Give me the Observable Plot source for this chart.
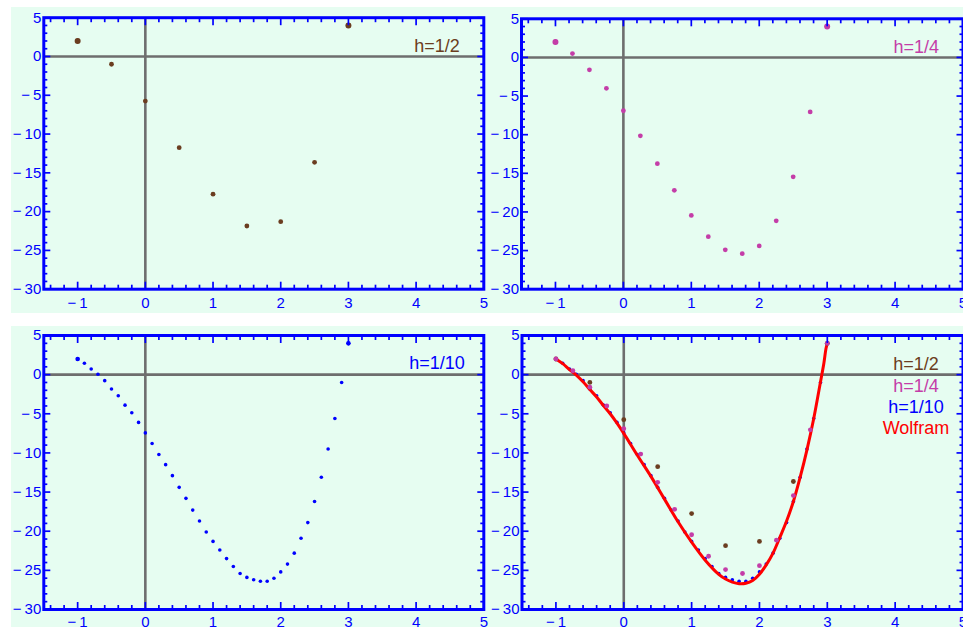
<!DOCTYPE html>
<html><head><meta charset="utf-8">
<script src="https://cdn.jsdelivr.net/npm/d3@7"></script>
<script src="https://cdn.jsdelivr.net/npm/@observablehq/plot@0.6"></script>
<style>
body{margin:0;background:#fff;}
#root{position:relative;width:963px;height:627px;overflow:hidden;font-family:"Liberation Sans",Arial,sans-serif;}
.bg{position:absolute;background:#e6fdf1;}
.panel{position:absolute;}
</style></head><body><div id="root">
<div class="bg" style="left:11px;top:7px;width:952px;height:306px"></div>
<div class="bg" style="left:11px;top:326px;width:952px;height:301px"></div>
</div>
<script>
// tick values
const xTicks = [-1, 0, 1, 2, 3, 4, 5];
const yTicks = [5, 0, -5, -10, -15, -20, -25, -30];
const xMinorTicks = d3.range(-1.4, 5, 0.2).filter(v => Math.abs(v - Math.round(v)) > 1e-6);
const yMinorTicks = d3.range(-29, 5, 1).filter(v => v % 5 !== 0);

// Euler h = 1/2
const xHalf = [-1, -0.5, 0, 0.5, 1, 1.5, 2, 2.5, 3];
const yHalf = [2, -1.0, -5.75, -11.75, -17.75, -21.85, -21.3, -13.65, 4.0];
// Euler h = 1/4
const xQuarter = [-1, -0.75, -0.5, -0.25, 0, 0.25, 0.5, 0.75, 1, 1.25, 1.5, 1.75, 2, 2.25, 2.5, 2.75, 3];
const yQuarter = [2, 0.5, -1.6, -4.0, -6.9, -10.15, -13.75, -17.2, -20.45, -23.2, -24.9, -25.4, -24.4, -21.15, -15.45, -7.05, 4.0];
// Euler h = 1/10
const xTenth = [-1, -0.9, -0.8, -0.7, -0.6, -0.5, -0.4, -0.3, -0.2, -0.1, 0,
  0.1, 0.2, 0.3, 0.4, 0.5, 0.6, 0.7, 0.8, 0.9, 1,
  1.1, 1.2, 1.3, 1.4, 1.5, 1.6, 1.7, 1.8, 1.9, 2,
  2.1, 2.2, 2.3, 2.4, 2.5, 2.6, 2.7, 2.8, 2.9, 3];
const yTenth = [2.0, 1.45, 0.72, 0.05, -0.77, -1.84, -2.7, -3.9, -4.87, -6.1, -7.44,
  -8.8, -10.2, -11.5, -12.9, -14.4, -15.8, -17.3, -18.7, -20.1, -21.3,
  -22.4, -23.5, -24.5, -25.4, -25.9, -26.2, -26.4, -26.4, -26.0, -25.2,
  -24.2, -22.8, -20.9, -18.9, -16.2, -13.1, -9.5, -5.6, -1.0, 4.0];
// Wolfram solution
const xWolfram = [-1, -0.9, -0.8, -0.7, -0.6, -0.5, -0.4, -0.3, -0.2, -0.1, 0, 0.2, 0.4, 0.6, 0.8, 1.0, 1.2, 1.4, 1.5, 1.6, 1.7, 1.8, 1.9, 2.0, 2.1, 2.2, 2.3, 2.4, 2.5, 2.6, 2.7, 2.8, 2.9, 2.95, 2.98, 3.0];
const yWolfram = [2.0, 1.4, 0.65, -0.05, -0.9, -1.9, -2.85, -3.95, -5.0, -6.2, -7.5, -10.3, -13.0, -15.9, -18.8, -21.4, -23.7, -25.5, -26.1, -26.5, -26.7, -26.65, -26.3, -25.5, -24.3, -22.8, -20.8, -18.7, -16.2, -13.1, -9.6, -5.6, -0.9, 1.5, 3.3, 4.0];
// boundary values
const boundaryX = [-1, 3];
const boundaryY = [2, 4];

const legendNames = ["h=1/2", "h=1/4", "h=1/10", "Wolfram"];

const brown = "#6b3d20", magenta = "#c43da8", blue = "#0000ff", red = "#ff0000";
const legendColors = [brown, magenta, blue, red];
const gray = "#6e6e6e";
const font = '"Liberation Sans", Arial, sans-serif';
const fmt = d => d < 0 ? "\u2212\u2009" + Math.abs(d) : String(d);

function panel({left, top, width, height, mL, mR, mT, mB, padX, marks}) {
  const tickOpts = {color: blue, strokeWidth: 1.7, tickFormat: () => "", label: null};
  const svg = Plot.plot({
    width, height,
    marginLeft: mL, marginRight: mR, marginTop: mT, marginBottom: mB,
    x: {domain: [-1.5, 5], axis: null},
    y: {domain: [-30, 5], axis: null},
    style: {background: "transparent", fontFamily: font, overflow: "hidden"},
    marks: [
      Plot.ruleX([0], {stroke: gray, strokeWidth: 2.6}),
      Plot.ruleY([0], {stroke: gray, strokeWidth: 2.6}),
      ...marks,
      Plot.frame({stroke: blue, strokeWidth: 3}),
      Plot.axisX(xTicks, {anchor: "bottom", tickSize: -7, ...tickOpts}),
      Plot.axisX(xMinorTicks, {anchor: "bottom", tickSize: -4, ...tickOpts}),
      Plot.axisX(xTicks, {anchor: "top", tickSize: -7, ...tickOpts}),
      Plot.axisX(xMinorTicks, {anchor: "top", tickSize: -4, ...tickOpts}),
      Plot.axisY(yTicks, {anchor: "left", tickSize: -7, ...tickOpts}),
      Plot.axisY(yMinorTicks, {anchor: "left", tickSize: -4, ...tickOpts}),
      Plot.axisY(yTicks, {anchor: "right", tickSize: -7, ...tickOpts}),
      Plot.axisY(yMinorTicks, {anchor: "right", tickSize: -4, ...tickOpts}),
      Plot.axisX(xTicks, {anchor: "bottom", tickSize: 0, tickPadding: padX, tickFormat: fmt, color: blue, fontSize: 15, label: null}),
      Plot.axisY(yTicks, {anchor: "left", tickSize: 0, tickPadding: 2.5, tickFormat: fmt, color: blue, fontSize: 15, label: null})
    ]
  });
  svg.classList.add("panel");
  svg.style.left = left + "px";
  svg.style.top = top + "px";
  document.getElementById("root").appendChild(svg);
}

function label(text, color, dx, dy, anchor = "end") {
  return Plot.text([text], {frameAnchor: "top-right", text: d => d, fill: color, fontSize: 18,
    textAnchor: anchor, lineAnchor: "middle", dx, dy, fontFamily: font});
}

// top-left: h = 1/2
panel({left: 0, top: 7, width: 490, height: 306, mL: 43.3, mR: 6.7, mT: 10.2, mB: 24.3, padX: 8, marks: [
  Plot.dot(xHalf, {x: xHalf, y: yHalf, r: 2.4, fill: brown}),
  Plot.dot(boundaryX, {x: boundaryX, y: boundaryY, r: 3, fill: brown}),
  label("h=1/2", brown, -24, 29)
]});

// top-right: h = 1/4
panel({left: 480, top: 7, width: 483, height: 306, mL: 41, mR: 0.5, mT: 11.3, mB: 24.3, padX: 8, marks: [
  Plot.dot(xQuarter, {x: xQuarter, y: yQuarter, r: 2.4, fill: magenta}),
  Plot.dot(boundaryX, {x: boundaryX, y: boundaryY, r: 3, fill: magenta}),
  label("h=1/4", magenta, -24, 28)
]});

// bottom-left: h = 1/10
panel({left: 0, top: 326, width: 490, height: 301, mL: 43.3, mR: 6.7, mT: 9, mB: 18, padX: 6.5, marks: [
  Plot.dot(xTenth, {x: xTenth, y: yTenth, r: 1.8, fill: blue}),
  Plot.dot(boundaryX, {x: boundaryX, y: boundaryY, r: 2.3, fill: blue}),
  label("h=1/10", blue, -19, 28)
]});

// bottom-right: all together
panel({left: 480, top: 326, width: 483, height: 301, mL: 41.5, mR: 0.5, mT: 9, mB: 18, padX: 6.5, marks: [
  Plot.dot(xTenth, {x: xTenth, y: yTenth, r: 1.8, fill: blue}),
  Plot.line(xWolfram, {x: xWolfram, y: yWolfram, stroke: red, strokeWidth: 3, curve: "catmull-rom"}),
  Plot.dot(xHalf, {x: xHalf, y: yHalf, r: 2.4, fill: brown}),
  Plot.dot(xQuarter, {x: xQuarter, y: yQuarter, r: 2.4, fill: magenta}),
  ...legendNames.map((n, i) => label(n, legendColors[i], -47, 29 + i * 21.3, "middle"))
]});
</script>
</body></html>
